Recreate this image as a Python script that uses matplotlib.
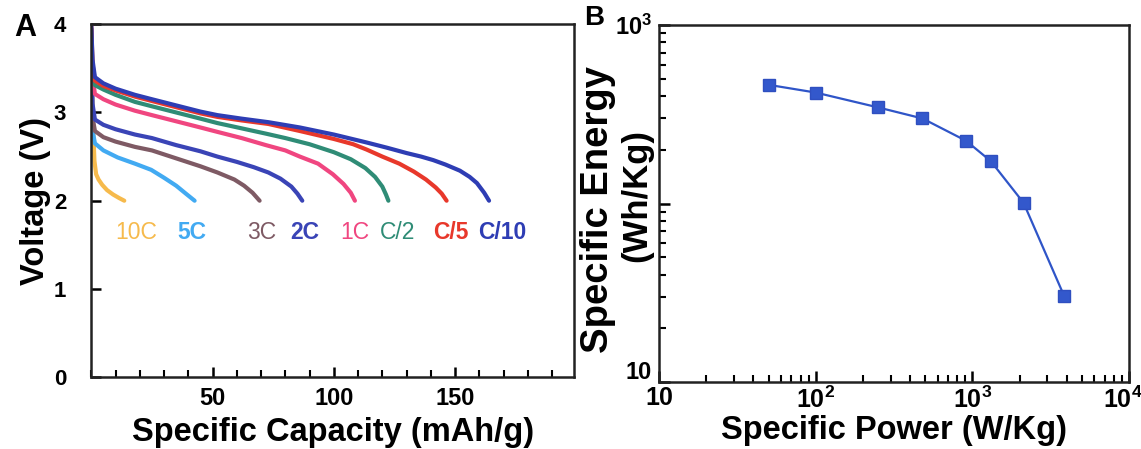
import matplotlib
matplotlib.use('Agg')
import matplotlib.pyplot as plt
from matplotlib.transforms import ScaledTranslation
from matplotlib.ticker import FixedLocator, FixedFormatter, LogLocator, NullFormatter, MultipleLocator

plt.rcParams['font.family'] = ['Liberation Sans', 'DejaVu Sans']
plt.rcParams['font.weight'] = 'bold'
plt.rcParams['mathtext.fontset'] = 'custom'
plt.rcParams['mathtext.rm'] = 'Liberation Sans'
plt.rcParams['mathtext.bf'] = 'Liberation Sans:bold'

# discharge curves: capacity (mAh/g) vs voltage (V) per C-rate
rates = ['C/10', 'C/5', 'C/2', '1C', '2C', '3C', '5C', '10C']
cap = {
    'C/10': [0, 0.5, 1.5, 5, 10, 18, 25, 35, 45, 52, 62, 73, 86, 100, 113.5,
             122, 130, 136, 141, 146, 152, 156, 159, 162, 164],
    'C/5':  [0, 0.5, 1.5, 5, 10, 18, 25, 35, 45, 52, 62, 73, 86, 100, 108,
             113.5, 120, 127, 133, 138, 142, 144.5, 146.5],
    'C/2':  [0, 0.5, 1.5, 5, 10, 18, 25, 35, 45, 52, 62, 72, 80, 90, 100, 107,
             113, 117, 120, 121.5, 122.5],
    '1C':   [0, 0.5, 1.5, 5, 10, 18, 25, 35, 45, 52, 62, 72, 80, 86, 93.5,
             99.6, 104, 107, 108.7],
    '2C':   [0, 0.5, 1.5, 5, 10, 18, 25, 35, 45, 52, 60, 67, 73, 78, 82.5, 85, 87],
    '3C':   [0, 0.5, 1.5, 5, 10, 18, 25, 35, 45, 52, 59, 63, 66.5, 69.4],
    '5C':   [0, 0.5, 1.5, 5, 10.9, 18, 24.7, 30, 35, 39, 42.6],
    '10C':  [0, 0.3, 0.8, 1.3, 2.0, 3.0, 4.5, 6.5, 9, 11.5, 13.6],
}
volt = {
    'C/10': [4.0, 3.6, 3.40, 3.33, 3.27, 3.20, 3.15, 3.08, 3.01, 2.97, 2.93,
             2.89, 2.83, 2.75, 2.66, 2.60, 2.54, 2.50, 2.46, 2.41, 2.34, 2.27,
             2.20, 2.09, 2.0],
    'C/5':  [4.0, 3.55, 3.36, 3.30, 3.25, 3.18, 3.13, 3.06, 2.99, 2.95, 2.91,
             2.87, 2.79, 2.70, 2.64, 2.58, 2.50, 2.42, 2.33, 2.24, 2.15, 2.08, 2.0],
    'C/2':  [3.95, 3.5, 3.31, 3.26, 3.20, 3.12, 3.07, 3.00, 2.93, 2.88, 2.82,
             2.76, 2.71, 2.64, 2.55, 2.47, 2.37, 2.27, 2.16, 2.07, 2.0],
    '1C':   [3.95, 3.4, 3.21, 3.15, 3.09, 3.02, 2.97, 2.90, 2.83, 2.78, 2.71,
             2.63, 2.57, 2.50, 2.42, 2.30, 2.19, 2.09, 2.0],
    '2C':   [3.8, 3.1, 2.92, 2.86, 2.81, 2.75, 2.71, 2.63, 2.56, 2.50, 2.44,
             2.38, 2.32, 2.25, 2.16, 2.08, 2.0],
    '3C':   [3.7, 2.95, 2.79, 2.72, 2.67, 2.61, 2.57, 2.48, 2.39, 2.32, 2.24,
             2.17, 2.09, 2.0],
    '5C':   [3.7, 2.8, 2.65, 2.57, 2.49, 2.42, 2.35, 2.26, 2.17, 2.08, 2.0],
    '10C':  [3.45, 3.2, 2.8, 2.45, 2.3, 2.24, 2.18, 2.12, 2.07, 2.03, 2.0],
}
colors = {
    'C/10': '#2E3DB4', 'C/5': '#E8382B', 'C/2': '#2F8C76', '1C': '#F04680',
    '2C': '#3A44B6', '3C': '#7E5A64', '5C': '#42AAF2', '10C': '#F6BA4C',
}
label_x = {'10C': 18.6, '5C': 41.3, '3C': 70.2, '2C': 88, '1C': 108.7,
           'C/2': 126.2, 'C/5': 148.3, 'C/10': 169.6}
label_bold = {'10C': False, '5C': True, '3C': False, '2C': True, '1C': False,
              'C/2': False, 'C/5': True, 'C/10': True}

# Ragone data
power = [50, 100, 250, 480, 910, 1310, 2120, 3840]
energy = [463, 419, 346, 300, 225, 173, 101, 30.5]

fig = plt.figure(figsize=(11.41, 4.49), dpi=100)
ax1 = fig.add_axes([0.080, 0.160, 0.423, 0.786])
ax2 = fig.add_axes([0.5776, 0.149, 0.412, 0.795])

for r in rates[::-1]:
    ax1.plot(cap[r], volt[r], color=colors[r], lw=3.0, solid_capstyle='round',
             solid_joinstyle='round')
for r in rates:
    ax1.text(label_x[r], 1.64, r, color=colors[r], fontsize=16.5,
             fontweight='bold' if label_bold[r] else 'normal',
             ha='center', va='center')

ax1.set_xlim(0, 199)
ax1.set_ylim(0, 4)
ax1.xaxis.set_major_locator(FixedLocator([50, 100, 150]))
ax1.xaxis.set_minor_locator(MultipleLocator(10))
ax1.yaxis.set_major_locator(FixedLocator([0, 1, 2, 3, 4]))
ax1.tick_params(axis='both', which='major', direction='in', length=7, width=1.8,
                top=False, right=False)
ax1.tick_params(axis='x', which='minor', direction='in', length=5, width=1.5)
ax1.tick_params(axis='x', which='major', pad=7, labelsize=17)
ax1.tick_params(axis='y', which='major', pad=18, labelsize=16)
ax1.set_xlabel('Specific Capacity (mAh/g)', fontsize=23.5, fontweight='bold', labelpad=5)
ax1.set_ylabel('Voltage (V)', fontsize=23.5, fontweight='bold', labelpad=2)

ax2.plot(power, energy, color='#2F55C8', lw=1.6, marker='s', ms=8,
         markerfacecolor='#3358CC', markeredgecolor='#2F4FC0')
ax2.set_xscale('log')
ax2.set_yscale('log')
ax2.set_xlim(10, 1e4)
ax2.set_ylim(10, 1e3)
ax2.xaxis.set_major_locator(FixedLocator([10, 100, 1000, 10000]))
ax2.xaxis.set_major_formatter(FixedFormatter(
    ['10', r'$\mathbf{10^{2}}$', r'$\mathbf{10^{3}}$', r'$\mathbf{10^{4}}$']))
ax2.yaxis.set_major_locator(FixedLocator([10, 100, 1000]))
ax2.yaxis.set_major_formatter(FixedFormatter(['10', '', r'$\mathbf{10^{3}}$']))
for axis in (ax2.xaxis, ax2.yaxis):
    axis.set_minor_locator(LogLocator(base=10, subs=range(2, 10)))
    axis.set_minor_formatter(NullFormatter())
ax2.tick_params(axis='both', which='major', direction='in', length=8, width=1.8,
                labelsize=18, top=False, right=False)
ax2.tick_params(axis='both', which='minor', direction='in', length=5, width=1.5,
                top=False, right=False)
ax2.tick_params(axis='x', which='major', pad=3)
ax2.tick_params(axis='y', which='major', pad=5, labelsize=17)
ax2.set_xlabel('Specific Power (W/Kg)', fontsize=23.5, fontweight='bold', labelpad=2)
# two-line y label, first line slightly larger
ax2.text(-0.130, 0.482, 'Specific Energy', transform=ax2.transAxes, rotation=90,
         fontsize=27.5, fontweight='bold', ha='center', va='center', clip_on=False)
ax2.text(-0.047, 0.524, '(Wh/Kg)', transform=ax2.transAxes, rotation=90,
         fontsize=25, fontweight='bold', ha='center', va='center', clip_on=False)

for ax in (ax1, ax2):
    for s in ax.spines.values():
        s.set_linewidth(1.8)
        s.set_color('#222222')

fig.text(0.022, 0.937, 'A', fontsize=22, fontweight='heavy', ha='center', va='center')
fig.text(0.521, 0.960, 'B', fontsize=20, fontweight='heavy', ha='center', va='center')

# nudge edge labels: last power label inside the figure, lowest energy label up
fig.canvas.draw()
last = ax2.get_xticklabels()[-1]
last.set_horizontalalignment('right')
last.set_transform(last.get_transform() + ScaledTranslation(10 / 72, 0, fig.dpi_scale_trans))
low = ax2.get_yticklabels()[0]
low.set_transform(low.get_transform() + ScaledTranslation(0, 9 / 72, fig.dpi_scale_trans))

fig.savefig('out.png', dpi=100, facecolor='white')
